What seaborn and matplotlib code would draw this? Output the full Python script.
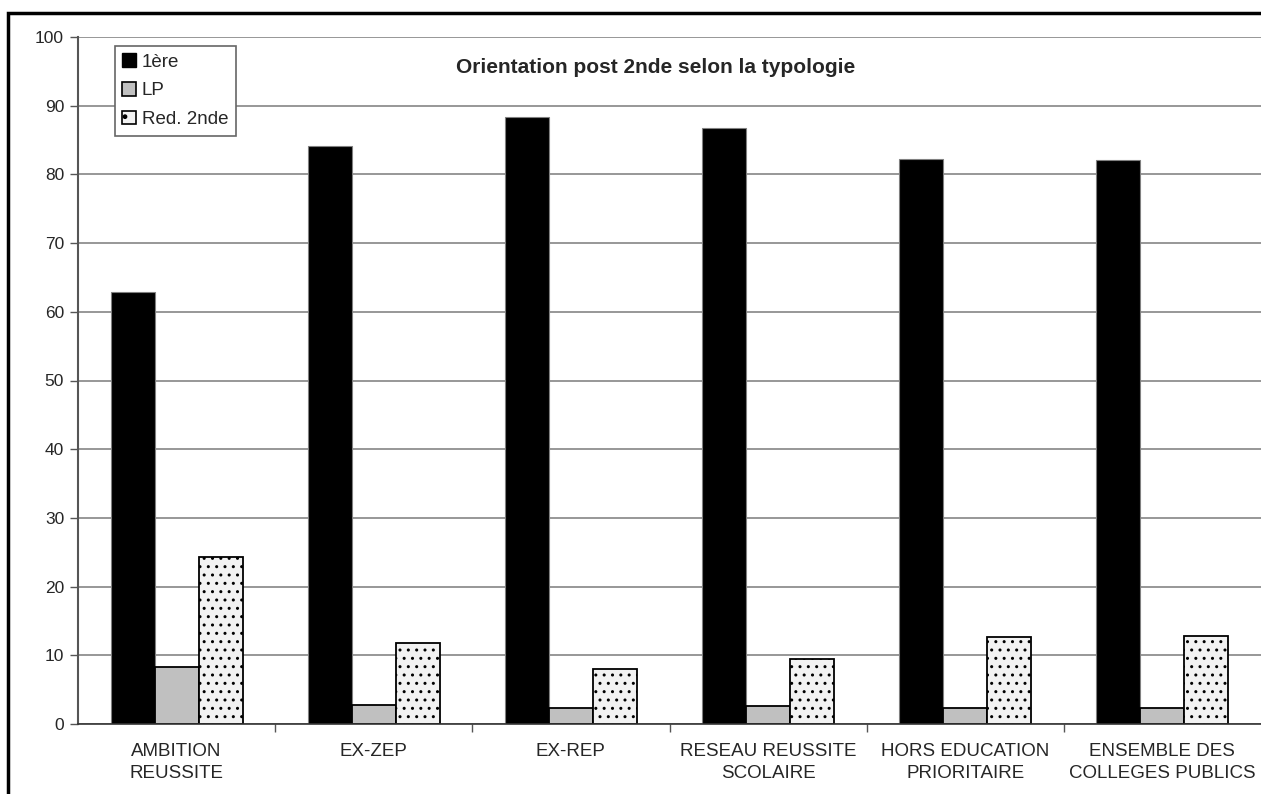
import numpy as np
import pandas as pd
import matplotlib
matplotlib.use("Agg")
import matplotlib.pyplot as plt
import seaborn as sns
from matplotlib.patches import Rectangle, Patch

# Data
categories = ["AMBITION\nREUSSITE", "EX-ZEP", "EX-REP", "RESEAU REUSSITE\nSCOLAIRE",
              "HORS EDUCATION\nPRIORITAIRE", "ENSEMBLE DES\nCOLLEGES PUBLICS"]
series = ["1ère", "LP", "Red. 2nde"]
premiere = [62.9, 84.1, 88.3, 86.8, 82.3, 82.1]
lp = [8.3, 2.8, 2.3, 2.6, 2.3, 2.4]
red_2nde = [24.3, 11.8, 8.0, 9.5, 12.7, 12.8]

df = pd.DataFrame({
    "cat": categories * 3,
    "serie": [series[0]] * 6 + [series[1]] * 6 + [series[2]] * 6,
    "val": premiere + lp + red_2nde,
})

sns.set_style("white")
plt.rcParams["font.family"] = ["Liberation Sans", "DejaVu Sans"]
plt.rcParams["hatch.color"] = "black"

colors = ["black", "#c0c0c0", "#f2f2f2"]

fig = plt.figure(figsize=(12.61, 7.94), dpi=100)
ax = fig.add_axes([78 / 1261, 1 - 724 / 794, 1183 / 1261, 687 / 794])

sns.barplot(data=df, x="cat", y="val", hue="serie", palette=colors,
            width=0.67, edgecolor="black", linewidth=1.3, ax=ax, legend=False)

# black bars have a grey edge, the third series is dotted
for bar in ax.containers[0]:
    bar.set_edgecolor("#808080")
    bar.set_linewidth(0.8)
for bar in ax.containers[2]:
    bar.set_hatch("..")

ax.set_ylim(0, 100)
ax.set_xlim(-0.5, len(categories) - 0.5)
ax.set_yticks(np.arange(0, 101, 10))
ax.yaxis.grid(True, color="#7a7a7a", linewidth=1.1)
ax.set_axisbelow(True)
ax.set_xlabel("")
ax.set_ylabel("")

ax.tick_params(axis="y", direction="out", length=6, width=1, color="#555555",
               labelsize=12.5, pad=4, left=True)
ax.tick_params(axis="x", which="major", length=0, labelsize=13.5, pad=14)
ax.set_xticks(np.arange(0.5, len(categories) - 0.5), minor=True)
ax.tick_params(axis="x", which="minor", direction="out", length=6, width=1,
               color="#555555", bottom=True)
for lab in ax.get_xticklabels():
    lab.set_linespacing(1.35)

for side in ["top", "right"]:
    ax.spines[side].set_visible(False)
ax.spines["left"].set_color("#555555")
ax.spines["left"].set_linewidth(1.5)
ax.spines["bottom"].set_color("#333333")
ax.spines["bottom"].set_linewidth(1.2)

ax.text(0.4886, 0.955, "Orientation post 2nde selon la typologie", transform=ax.transAxes,
        ha="center", va="center", fontsize=15, fontweight="bold")

handles = [Patch(facecolor=colors[0], edgecolor="black"),
           Patch(facecolor=colors[1], edgecolor="black", linewidth=1.2),
           Patch(facecolor=colors[2], edgecolor="black", linewidth=1.2, hatch=".")]
leg = ax.legend(handles, series, loc="upper left", bbox_to_anchor=(0.031, 0.987),
                frameon=True, fancybox=False, edgecolor="#666666", fontsize=13.5,
                handlelength=0.75, handleheight=0.75, handletextpad=0.3,
                labelspacing=0.6, borderpad=0.4, borderaxespad=0)
leg.get_frame().set_linewidth(1.2)
leg.get_frame().set_facecolor("white")
leg.get_frame().set_alpha(1)

# outer chart border
fig.patches.append(Rectangle((8 / 1261, -0.1), 1.2, 1.1 - 13 / 794, transform=fig.transFigure,
                             fill=False, edgecolor="black", linewidth=2.5))

fig.savefig("out.png", dpi=100)
